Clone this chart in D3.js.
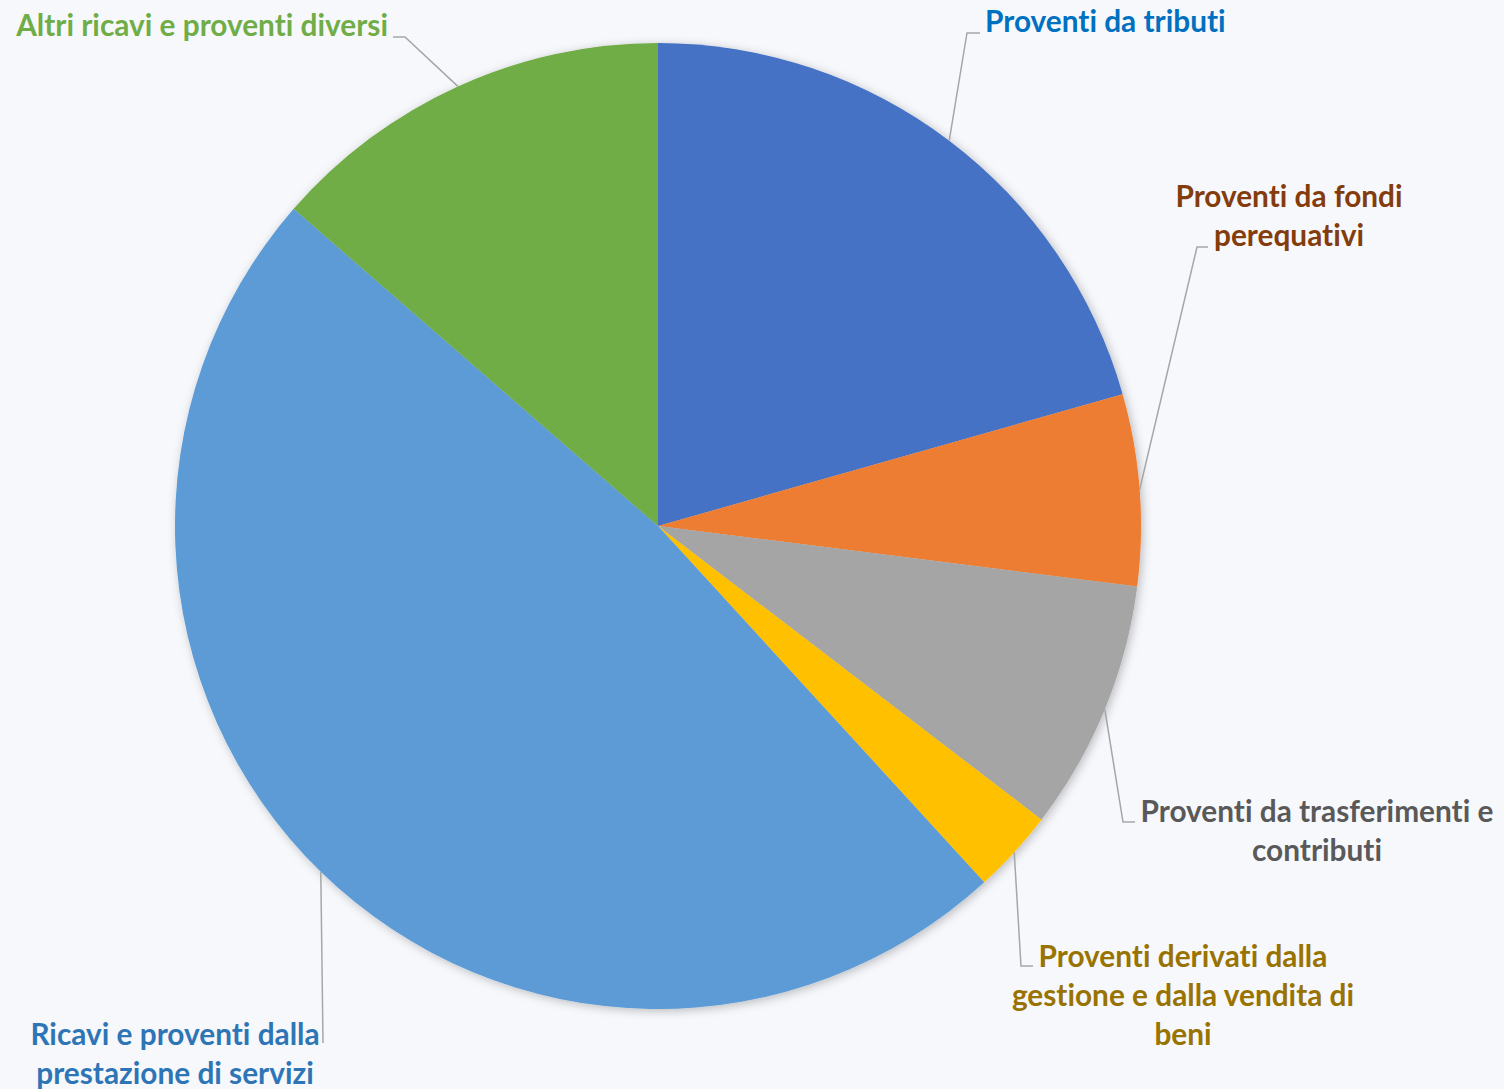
<!DOCTYPE html>
<html>
<head>
<meta charset="utf-8">
<script src="https://cdn.jsdelivr.net/npm/d3@7"></script>
<style>
  html, body { margin: 0; padding: 0; background: #F7F8FC; }
  svg { display: block; }
  text { font-family: Lato, "Open Sans", sans-serif; font-weight: 700;
         font-variant-ligatures: none; font-feature-settings: "liga" 0, "clig" 0; }
</style>
</head>
<body>
<svg id="chart" width="1504" height="1089"></svg>
<script>
// ---- data ----
const categories = [
  "Proventi da tributi",
  "Proventi da fondi perequativi",
  "Proventi da trasferimenti e contributi",
  "Proventi derivati dalla gestione e dalla vendita di beni",
  "Ricavi e proventi dalla prestazione di servizi",
  "Altri ricavi e proventi diversi"
];
const values = [20.6, 6.4, 8.4, 2.8, 48.2, 13.6];
const sliceColors = ["#4472C4", "#ED7D31", "#A5A5A5", "#FFC000", "#5B9BD5", "#70AD47"];
const labelColors = ["#0070C0", "#843C0C", "#595959", "#997300", "#2E75B6", "#70AD47"];
const labelLines = [
  ["Proventi da tributi"],
  ["Proventi da fondi", "perequativi"],
  ["Proventi da trasferimenti e", "contributi"],
  ["Proventi derivati dalla", "gestione e dalla vendita di", "beni"],
  ["Ricavi e proventi dalla", "prestazione di servizi"],
  ["Altri ricavi e proventi diversi"]
];

// ---- layout (label placement) ----
const cx = 658, cy = 526, R = 483;
const labelLayout = [
  { elbow: [967, 33],  end: [980, 33],  x: 985,  y: 22,  anchor: "start" },
  { elbow: [1197, 247], end: [1208, 247], x: 1289, y: 197, anchor: "middle" },
  { elbow: [1123, 822], end: [1135, 822], x: 1317, y: 812, anchor: "middle" },
  { elbow: [1021, 966], end: [1033, 966], x: 1183, y: 957, anchor: "middle" },
  { elbow: [323, 1043], end: [323, 1043], x: 175,  y: 1035, anchor: "middle" },
  { elbow: [405, 37],  end: [393, 37],  x: 388,  y: 26,  anchor: "end" }
];
const lineH = 39;
const fontSize = 29.8;

const svg = d3.select("#chart");
const defs = svg.append("defs");
const f = defs.append("filter").attr("id", "shadow")
  .attr("x", "-10%").attr("y", "-10%").attr("width", "120%").attr("height", "120%");
f.append("feDropShadow").attr("dx", 2).attr("dy", 2).attr("stdDeviation", 5)
  .attr("flood-color", "#000").attr("flood-opacity", 0.25);

const pie = d3.pie().sort(null).value(d => d);
const arcs = pie(values);
const arc = d3.arc().innerRadius(0).outerRadius(R);

const g = svg.append("g").attr("transform", `translate(${cx},${cy})`);
g.append("g").attr("filter", "url(#shadow)")
  .selectAll("path").data(arcs).join("path")
  .attr("d", arc)
  .attr("fill", (d, i) => sliceColors[i]);

// leader lines
const leaders = svg.append("g");
arcs.forEach((d, i) => {
  const mid = (d.startAngle + d.endAngle) / 2;
  const p0 = [cx + R * Math.sin(mid), cy - R * Math.cos(mid)];
  const L = labelLayout[i];
  leaders.append("polyline")
    .attr("points", [p0, L.elbow, L.end].map(p => p.join(",")).join(" "))
    .attr("fill", "none").attr("stroke", "#A6A6A6").attr("stroke-width", 1.5);
});

// labels
const labels = svg.append("g");
labelLines.forEach((lines, i) => {
  const L = labelLayout[i];
  const t = labels.append("text")
    .attr("text-anchor", L.anchor)
    .attr("fill", labelColors[i])
    .attr("font-size", fontSize);
  lines.forEach((s, j) => {
    t.append("tspan").attr("x", L.x).attr("y", L.y + j * lineH)
      .attr("dy", "0.35em").text(s);
  });
});
</script>
</body>
</html>
